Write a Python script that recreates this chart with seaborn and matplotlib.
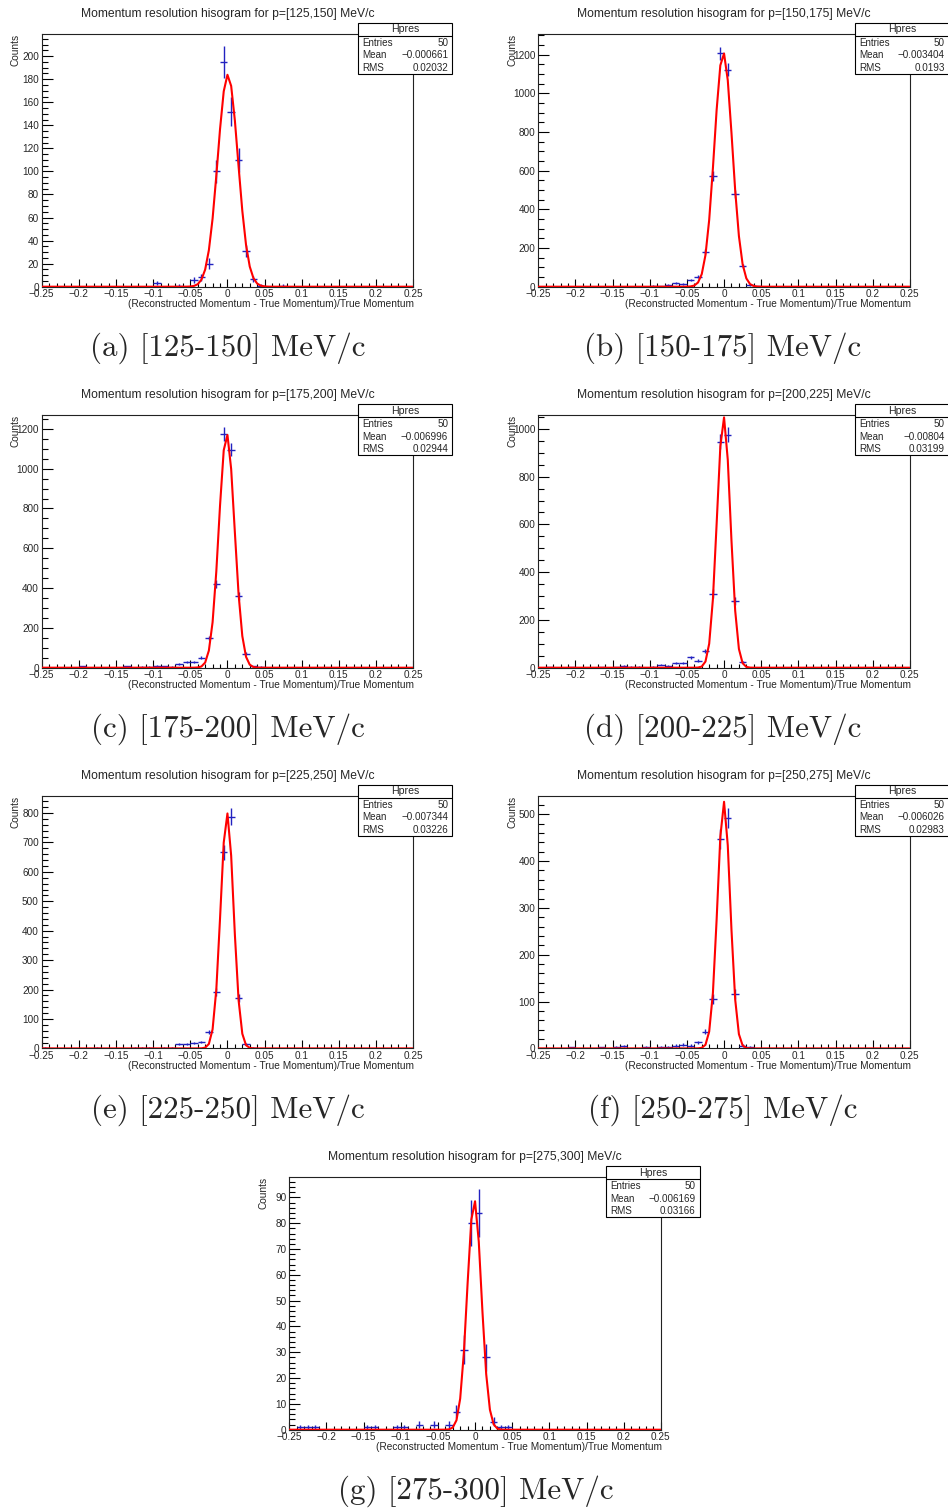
import numpy as np
import matplotlib
matplotlib.use("Agg")
import matplotlib.pyplot as plt
from matplotlib.patches import Rectangle
from matplotlib.lines import Line2D
from matplotlib.ticker import MultipleLocator, FuncFormatter
import seaborn as sns

# --- data ----------------------------------------------------------------
p_ranges = ["125,150", "150,175", "175,200", "200,225", "225,250", "250,275", "275,300"]
captions = ["(a) [125-150] MeV/c", "(b) [150-175] MeV/c", "(c) [175-200] MeV/c",
            "(d) [200-225] MeV/c", "(e) [225-250] MeV/c", "(f) [250-275] MeV/c",
            "(g) [275-300] MeV/c"]
entries = [50, 50, 50, 50, 50, 50, 50]
means = ["-0.000661", "-0.003404", "-0.006996", "-0.00804", "-0.007344", "-0.006026", "-0.006169"]
rms = ["0.02032", "0.0193", "0.02944", "0.03199", "0.03226", "0.02983", "0.03166"]

# 50 bins over [-0.25, 0.25]
bin_lo, bin_hi, n_bins = -0.25, 0.25, 50

counts_a = [0, 0, 0, 0, 0, 0, 0, 0, 0, 0,
            0, 0, 0, 0, 0, 3, 0, 0, 1, 0,
            6, 8, 20, 100, 195, 152, 110, 31, 7, 1,
            0, 0, 1, 0, 0, 0, 0, 0, 0, 0,
            0, 0, 0, 0, 0, 0, 0, 0, 0, 0]
counts_b = [0, 0, 0, 0, 0, 0, 0, 0, 0, 0,
            0, 0, 0, 0, 0, 5, 3, 10, 20, 15,
            34, 52, 181, 572, 1207, 1121, 478, 109, 9, 3,
            0, 0, 0, 0, 0, 0, 0, 0, 0, 0,
            0, 0, 0, 0, 0, 0, 0, 0, 0, 0]
counts_c = [0, 0, 0, 0, 0, 8, 0, 0, 0, 0,
            0, 8, 0, 5, 5, 10, 7, 5, 20, 27,
            27, 50, 149, 422, 1173, 1095, 359, 70, 8, 5,
            0, 0, 0, 0, 0, 0, 0, 0, 0, 0,
            0, 0, 0, 0, 0, 0, 0, 0, 0, 0]
counts_d = [0, 3, 0, 0, 3, 0, 0, 0, 3, 0,
            3, 7, 5, 5, 0, 5, 13, 8, 20, 20,
            43, 29, 71, 310, 947, 975, 278, 24, 0, 0,
            0, 0, 0, 0, 0, 0, 0, 0, 0, 0,
            0, 0, 0, 0, 0, 0, 0, 0, 0, 0]
counts_e = [2, 0, 0, 0, 0, 0, 0, 2, 0, 0,
            0, 0, 2, 3, 3, 0, 3, 2, 15, 15,
            19, 22, 55, 191, 666, 788, 171, 15, 3, 0,
            0, 0, 0, 0, 0, 0, 0, 0, 0, 0,
            0, 0, 0, 0, 0, 0, 0, 0, 0, 0]
counts_f = [0, 0, 0, 0, 2, 0, 0, 0, 2, 0,
            3, 5, 0, 0, 3, 0, 3, 4, 6, 8,
            6, 13, 36, 106, 448, 492, 116, 6, 3, 0,
            0, 0, 0, 0, 0, 0, 0, 0, 0, 0,
            0, 0, 0, 0, 0, 0, 0, 0, 0, 0]
counts_g = [0, 1, 1, 1, 0, 0, 0, 0, 0, 0,
            1, 1, 0, 0, 1, 1, 0, 2, 0, 2,
            0, 2, 7, 31, 80, 84, 28, 3, 1, 1,
            0, 0, 0, 0, 0, 0, 0, 0, 0, 0,
            0, 0, 0, 0, 0, 0, 0, 0, 0, 0]
all_counts = [counts_a, counts_b, counts_c, counts_d, counts_e, counts_f, counts_g]

# gaussian fit parameters (constant, mean, sigma)
fit_const = [184, 1210, 1175, 1050, 800, 527, 89]
fit_mean = [0.0005, -0.001, -0.001, -0.0005, -0.0005, -0.0003, -0.001]
fit_sigma = [0.0136, 0.012, 0.0105, 0.009, 0.0087, 0.0085, 0.0095]

y_max = [219, 1305, 1268, 1057, 858, 539, 97.8]
y_major = [20, 200, 200, 200, 100, 100, 10]
y_minor = [5, 50, 50, 50, 20, 20, 2]

# --- layout (pixels) ------------------------------------------------------
W, H = 948, 1510
ax_left = [41.7, 538.3, 41.7, 538.3, 41.7, 538.3, 289.3]
ax_top = [34.3, 34.3, 415.3, 415.3, 796, 796, 1177.3]
ax_w, ax_h = 371.5, 252.4
cap_xy = [(228, 347), (723, 347), (228, 728), (723, 728), (228, 1109), (723, 1109), (476, 1490)]


def fx(x):
    return x / W


def fy(y):
    return 1 - y / H


sns.set_theme(style="ticks")
plt.rcParams['font.family'] = ['Liberation Sans', 'DejaVu Sans']
plt.rcParams['axes.unicode_minus'] = True

fig = plt.figure(figsize=(W / 100, H / 100), dpi=100)
fig.patch.set_facecolor("white")

blue = "#2222c0"
edges = np.linspace(bin_lo, bin_hi, n_bins + 1)
centers = (edges[:-1] + edges[1:]) / 2
xf = np.linspace(bin_lo, bin_hi, 101)   # ROOT TF1 default npx=100


def tick_fmt(v, pos):
    s = "%g" % round(v, 4)
    if s == "-0":
        s = "0"
    return s.replace("-", "\u2212")


for i in range(7):
    L, T = ax_left[i], ax_top[i]
    ax = fig.add_axes([fx(L), fy(T + ax_h), ax_w / W, ax_h / H])
    ax.set_facecolor("white")

    cnt = np.array(all_counts[i], dtype=float)
    m = cnt > 0
    ax.errorbar(centers[m], cnt[m], yerr=np.sqrt(cnt[m]), xerr=0.005,
                fmt="none", ecolor=blue, elinewidth=1.0, capsize=0, zorder=2)

    yf = fit_const[i] * np.exp(-0.5 * ((xf - fit_mean[i]) / fit_sigma[i]) ** 2)
    sns.lineplot(x=xf, y=yf, ax=ax, color="red", linewidth=1.5, sort=False, zorder=3)

    ax.set_xlim(bin_lo, bin_hi)
    ax.set_ylim(0, y_max[i])
    ax.xaxis.set_major_locator(MultipleLocator(0.05))
    ax.xaxis.set_minor_locator(MultipleLocator(0.01))
    ax.yaxis.set_major_locator(MultipleLocator(y_major[i]))
    ax.yaxis.set_minor_locator(MultipleLocator(y_minor[i]))
    ax.xaxis.set_major_formatter(FuncFormatter(tick_fmt))
    ax.yaxis.set_major_formatter(FuncFormatter(tick_fmt))
    ax.tick_params(axis="x", which="major", direction="in", length=5.5, width=0.8,
                   labelsize=7.2, pad=2, color="black")
    ax.tick_params(axis="x", which="minor", direction="in", length=2.8, width=0.8, color="black")
    ax.tick_params(axis="y", which="major", direction="in", length=8, width=0.8,
                   labelsize=7.2, pad=2, color="black")
    ax.tick_params(axis="y", which="minor", direction="in", length=4, width=0.8, color="black")
    for sp in ax.spines.values():
        sp.set_visible(True)
        sp.set_linewidth(0.8)
        sp.set_color("#222222")
    ax.set_xlabel("")
    ax.set_ylabel("")

    # titles and axis labels
    fig.text(fx(L + ax_w / 2), fy(T - 20.3), "Momentum resolution hisogram for p=[%s] MeV/c" % p_ranges[i],
             ha="center", va="center", fontsize=8.7)
    fig.text(fx(L + ax_w + 1), fy(T + ax_h + 17.7),
             "(Reconstructed Momentum - True Momentum)/True Momentum",
             ha="right", va="center", fontsize=7.3)
    fig.text(fx(L - 26), fy(T), "Counts", rotation=90, ha="center", va="top", fontsize=7.3)

    # stats box
    bl, bt, bw, bh = L + ax_w - 55, T - 11.3, 94, 51
    fig.patches.append(Rectangle((fx(bl), fy(bt + bh)), bw / W, bh / H, transform=fig.transFigure,
                                 facecolor="white", edgecolor="black", linewidth=0.8, zorder=5))
    fig.lines.append(Line2D([fx(bl), fx(bl + bw)], [fy(bt + 13), fy(bt + 13)],
                            transform=fig.transFigure, color="black", linewidth=0.8, zorder=6))
    fig.text(fx(bl + bw / 2), fy(bt + 6.5), "Hpres", ha="center", va="center", fontsize=7.6, zorder=7)
    rows = [("Entries", str(entries[i])), ("Mean", means[i].replace("-", "\u2212")), ("RMS", rms[i])]
    for k, (lab, val) in enumerate(rows):
        yy = fy(bt + 20 + 12.5 * k)
        fig.text(fx(bl + 4), yy, lab, ha="left", va="center", fontsize=7.1, zorder=7)
        fig.text(fx(bl + bw - 4), yy, val, ha="right", va="center", fontsize=7.1, zorder=7)

    # caption
    cx, cy = cap_xy[i]
    fig.text(fx(cx), fy(cy + 1), captions[i], ha="center", va="center",
             fontsize=22.3, family="cmr10")

fig.savefig("out.png", dpi=100, facecolor="white")
